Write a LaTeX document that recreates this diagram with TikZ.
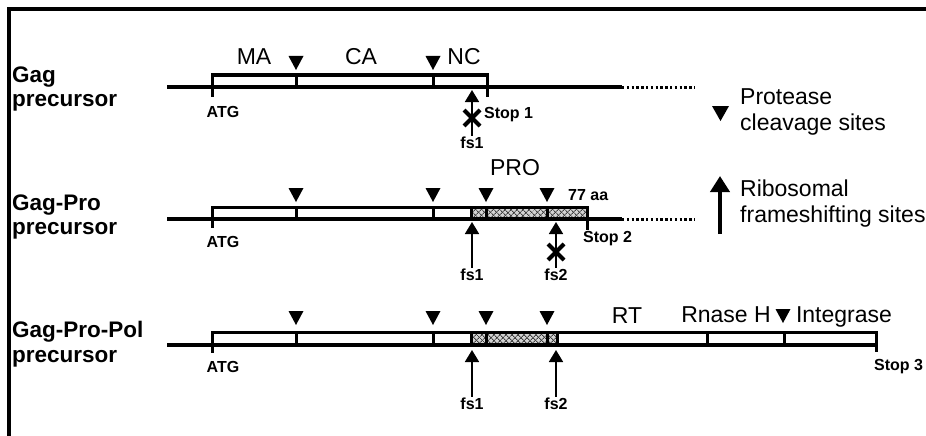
\documentclass[tikz,border=0pt]{standalone}
\usepackage{fontspec}
\setmainfont{Liberation Sans}
\usetikzlibrary{patterns,patterns.meta,arrows.meta}

% filled cleavage-site triangle, tip at (#1,#2)
\newcommand\cutsite[2]{\fill (#1-7.5,#2-14) -- (#1+7.5,#2-14) -- (#1,#2) -- cycle;}
% blocked frameshift: bold cross centred at (#1,#2)
\newcommand\blockmark[2]{\draw[blocked] (#1-8,#2-8) -- (#1+8,#2+8) (#1-8,#2+8) -- (#1+8,#2-8);}
% protease-coding stretch of a reading frame
\newcommand\hatchseg[4]{%
  \fill[gray!35] (#1,#3) rectangle (#2,#4);
  \fill[pattern={Lines[angle=45,distance=4pt,line width=1pt]}, pattern color=black!75] (#1,#3) rectangle (#2,#4);
  \fill[pattern={Lines[angle=-45,distance=4pt,line width=1pt]}, pattern color=black!75] (#1,#3) rectangle (#2,#4);}

\tikzset{
  rowlabel/.style={font=\fontsize{22.5}{26}\selectfont\bfseries, anchor=base west, inner sep=0pt},
  protlabel/.style={font=\fontsize{23}{27}\selectfont, anchor=base, inner sep=0pt},
  legendtext/.style={font=\fontsize{23}{26}\selectfont, align=left, anchor=west, inner sep=0pt},
  tag/.style={font=\fontsize{16}{18}\selectfont\bfseries, inner sep=0pt},
  backbone/.style={line width=3.2pt},
  readthrough/.style={line width=3pt, dash pattern=on 2.4pt off 2.4pt},
  orf/.style={line width=3pt},
  fsarrow/.style={line width=1.8pt, -{Triangle[length=12pt,width=14pt]}, shorten <=1pt},
  bigarrow/.style={line width=4pt, -{Triangle[length=16pt,width=19pt]}},
  blocked/.style={line width=4pt},
}

\begin{document}
\begin{tikzpicture}[x=1pt,y=-1pt]
\useasboundingbox (0,0) rectangle (926,436);
\fill[white] (0,0) rectangle (926,436);
\draw[line width=3.2pt] (9,436) -- (9,9) -- (926,9);

% ---------- Gag precursor ----------
\node[rowlabel] (gagA) at (12,82) {Gag};
\node[rowlabel] (gagB) at (12,106) {precursor};
\draw[backbone] (167,87) -- (622,87);
\draw[readthrough] (622,87) -- (695,87);
\draw[orf] (212,75) rectangle (487,87);
\draw[orf] (296,75) -- (296,87) (433,75) -- (433,87);
\draw[orf] (212,75) -- (212,97) (487,75) -- (487,97);
\cutsite{296}{70}
\cutsite{433}{70}
\node[protlabel] (ma) at (254,65) {MA};
\node[protlabel] (ca) at (361,65) {CA};
\node[protlabel] (nc) at (464,65) {NC};
\node[tag] (atg1) at (223,112) {ATG};
\node[tag, anchor=west] (stop1) at (484,115) {Stop 1};
\node[tag] (fs1a) at (472,143) {fs1};
\coordinate (fs1aTip) at (472,90);
\draw[fsarrow] (fs1a.north) -- (fs1aTip);
\blockmark{472}{118}

% ---------- Gag-Pro precursor ----------
\node[rowlabel] (gpA) at (12,210) {Gag-Pro};
\node[rowlabel] (gpB) at (12,234) {precursor};
\hatchseg{471}{587}{207}{219}
\draw[backbone] (167,219) -- (622,219);
\draw[readthrough] (622,219) -- (695,219);
\draw[orf] (212,207) rectangle (587,219);
\foreach \x in {296,433,471,486,547} \draw[orf] (\x,207) -- (\x,219);
\draw[orf] (212,207) -- (212,228) (587,207) -- (587,230);
\foreach \x in {296,433,486,547} {\cutsite{\x}{202}}
\node[protlabel] (pro) at (515,175) {PRO};
\node[tag, anchor=west] (aa) at (568,195) {77 aa};
\node[tag] (atg2) at (223,242) {ATG};
\node[tag, anchor=west] (stop2) at (583,239) {Stop 2};
\node[tag] (fs1b) at (472,275) {fs1};
\node[tag] (fs2b) at (556,275) {fs2};
\coordinate (fs1bTip) at (472,222);
\coordinate (fs2bTip) at (556,222);
\draw[fsarrow] (fs1b.north) -- (fs1bTip);
\draw[fsarrow] (fs2b.north) -- (fs2bTip);
\blockmark{556}{252}

% ---------- Gag-Pro-Pol precursor ----------
\node[rowlabel] (gppA) at (12,337) {Gag-Pro-Pol};
\node[rowlabel] (gppB) at (12,362) {precursor};
\hatchseg{471}{557}{332}{345}
\draw[backbone] (167,345) -- (876,345);
\draw[orf] (212,332) rectangle (876,345);
\foreach \x in {296,433,471,486,547,557,707,784} \draw[orf] (\x,332) -- (\x,345);
\draw[orf] (212,332) -- (212,353) (876,332) -- (876,352);
\foreach \x in {296,433,486,547} {\cutsite{\x}{325}}
\cutsite{783}{323}
\node[protlabel] (rt) at (627,323) {RT};
\node[protlabel] (rnh) at (726,322) {Rnase H};
\node[protlabel] (int) at (844,322) {Integrase};
\node[tag] (atg3) at (223,367) {ATG};
\node[tag, anchor=west] (stop3) at (874,367) {Stop 3};
\node[tag] (fs1c) at (472,404) {fs1};
\node[tag] (fs2c) at (556,404) {fs2};
\coordinate (fs1cTip) at (472,350);
\coordinate (fs2cTip) at (556,350);
\draw[fsarrow] (fs1c.north) -- (fs1cTip);
\draw[fsarrow] (fs2c.north) -- (fs2cTip);

% ---------- legend ----------
\fill (712,106) -- (729,106) -- (720.5,121) -- cycle;
\node[legendtext] (legPr) at (740,112) {Protease\\cleavage sites};
\coordinate (legBase) at (720,234);
\coordinate (legTip) at (720,176);
\draw[bigarrow] (legBase) -- (legTip);
\node[legendtext] (legFs) at (740,204) {Ribosomal\\frameshifting sites};
\end{tikzpicture}
\end{document}
